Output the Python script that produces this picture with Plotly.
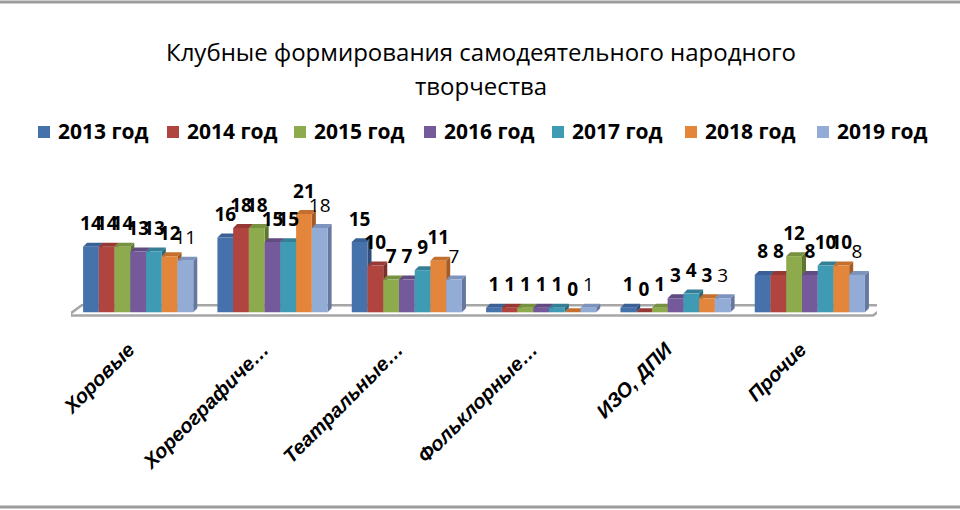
import plotly.graph_objects as go

categories = ["Хоровые", "Хореографиче…", "Театральные…", "Фольклорные…", "ИЗО, ДПИ", "Прочие"]
years = ["2013 год", "2014 год", "2015 год", "2016 год", "2017 год", "2018 год", "2019 год"]

v2013 = [14, 16, 15, 1, 1, 8]
v2014 = [14, 18, 10, 1, 0, 8]
v2015 = [14, 18, 7, 1, 1, 12]
v2016 = [13, 15, 7, 1, 3, 8]
v2017 = [13, 15, 9, 1, 4, 10]
v2018 = [12, 21, 11, 0, 3, 10]
v2019 = [11, 18, 7, 1, 3, 8]
values = [v2013, v2014, v2015, v2016, v2017, v2018, v2019]

front = ["#4672AC", "#B0443F", "#8DAB4C", "#745A9A", "#3F9AB4", "#E3863B", "#93ACD6"]
top = ["#3A6096", "#963834", "#769140", "#604B82", "#347F95", "#C46F2D", "#7B93BD"]
side = ["#2F4E7B", "#7C2E2B", "#5F7633", "#4E3D6A", "#2A687A", "#A35C25", "#6678A0"]

# plot area in pixels
L, R, T, B = 71, 877, 200, 317
W, H = 960, 510
Y0, Y1 = -1, 24

# left edges of the legend squares, in pixels
legend_x = [38, 167, 294, 424, 552, 685, 817]


def px(x):
    return (x - L) / (R - L)


def py(y):
    return (B - y) / (B - T)


bargap = 0.18
n = len(years)
bw = (1 - bargap) / n
dx, dy = 0.03, 0.85  # fake depth of the 3d bars

fig = go.Figure()
shapes = []
annotations = []

# floor
shapes.append(dict(type="path", xref="x2", yref="y", layer="below",
                   path="M-0.525,-0.7 L5.47,-0.7 L5.575,1.5 L-0.42,1.5 Z",
                   line=dict(color="#A6A6A6", width=2.5), fillcolor="white"))

for i, (name, vals) in enumerate(zip(years, values)):
    fig.add_trace(go.Bar(
        x=categories, y=vals, name=name,
        marker=dict(color=front[i], line=dict(width=0)),
        hoverinfo="x+y+name",
    ))
    off = -(1 - bargap) / 2 + i * bw
    xs = [j + off for j in range(len(categories))]
    for x0, v in zip(xs, vals):
        x1 = x0 + bw
        shapes.append(dict(type="path", xref="x2", yref="y", layer="below",
                           path=f"M{x1},0 L{x1 + dx},{dy} L{x1 + dx},{v + dy} L{x1},{v} Z",
                           fillcolor=side[i], line=dict(width=0)))
        shapes.append(dict(type="path", xref="x2", yref="y", layer="below",
                           path=f"M{x0},{v} L{x1},{v} L{x1 + dx},{v + dy} L{x0 + dx},{v + dy} Z",
                           fillcolor=top[i], line=dict(width=0)))
    fig.add_trace(go.Scatter(
        x=[x + bw / 2 for x in xs], y=[v + 2.5 for v in vals], xaxis="x2",
        mode="text", text=[str(v) for v in vals], textposition="top center",
        textfont=dict(family="Open Sans", size=19, color="black",
                      weight="normal" if i == n - 1 else "bold"),
        showlegend=False, hoverinfo="skip", cliponaxis=False,
    ))
    # legend entry
    lx = legend_x[i]
    shapes.append(dict(type="rect", xref="paper", yref="paper",
                       x0=px(lx), x1=px(lx + 12), y0=py(126), y1=py(138),
                       fillcolor=front[i], line=dict(width=0)))
    annotations.append(dict(text=name, xref="paper", yref="paper",
                            x=px(lx + 18), y=py(131), xanchor="left", yanchor="middle",
                            showarrow=False,
                            font=dict(family="Open Sans", size=21, color="black", weight="bold")))

# frame lines at the top and bottom of the picture
for yy in (2, 507):
    shapes.append(dict(type="line", xref="paper", yref="paper",
                       x0=px(0), x1=px(W), y0=py(yy), y1=py(yy),
                       line=dict(color="#9C9C9C", width=3)))

annotations += [
    dict(text="Клубные формирования самодеятельного народного", xref="paper", yref="paper",
         x=px(481), y=py(51), xanchor="center", yanchor="middle", showarrow=False,
         font=dict(family="Open Sans", size=24, color="black")),
    dict(text="творчества", xref="paper", yref="paper",
         x=px(481), y=py(85), xanchor="center", yanchor="middle", showarrow=False,
         font=dict(family="Open Sans", size=24, color="black")),
]

fig.update_layout(
    template="none",
    width=W, height=H,
    margin=dict(l=L, r=W - R, t=T, b=H - B, pad=0),
    paper_bgcolor="white", plot_bgcolor="rgba(0,0,0,0)",
    barmode="group", bargap=bargap, bargroupgap=0,
    showlegend=False,
    xaxis=dict(range=[-0.5, 5.5], showgrid=False, zeroline=False, showline=False,
               showticklabels=False, ticks="", automargin=False, fixedrange=True),
    # numeric twin of the category axis: 3d faces, value labels, tick labels
    xaxis2=dict(range=[-0.5, 5.5], overlaying="x", side="bottom",
                showgrid=False, zeroline=False, showline=False, ticks="",
                tickvals=[j - 0.07 for j in range(len(categories))], ticktext=categories,
                tickangle=-45, ticklabelstandoff=16,
                tickfont=dict(family="Liberation Sans", size=20, color="black",
                              weight="bold", style="italic"),
                automargin=False, fixedrange=True),
    yaxis=dict(range=[Y0, Y1], visible=False, showgrid=False, zeroline=False,
               automargin=False, fixedrange=True),
    shapes=shapes,
    annotations=annotations,
)

fig.write_html("out.html", config={"displayModeBar": False},
               post_script="document.body.style.margin='0';")
